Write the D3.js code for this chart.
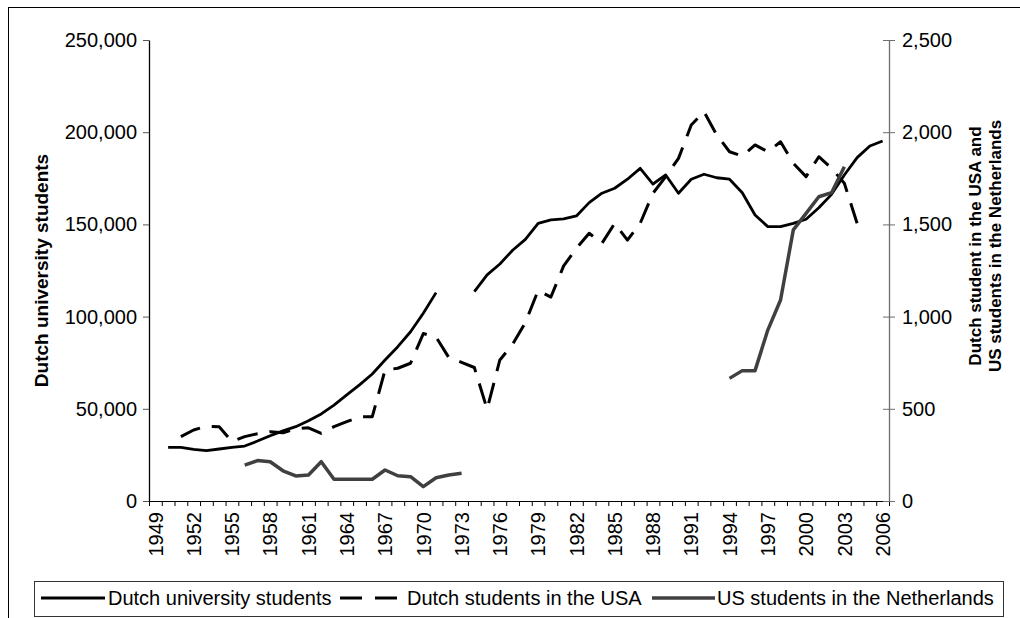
<!DOCTYPE html>
<html>
<head>
<meta charset="utf-8">
<script src="https://cdn.jsdelivr.net/npm/d3@7"></script>
<style>
  body { margin: 0; background: #fff; }
  svg { display: block; }
  text { font-family: Arial, "Liberation Sans", sans-serif; }
</style>
</head>
<body>
<div id="chart"></div>
<script>
// categories (years)
const years = [1949, 1950, 1951, 1952, 1953, 1954, 1955, 1956, 1957, 1958,
  1959, 1960, 1961, 1962, 1963, 1964, 1965, 1966, 1967, 1968,
  1969, 1970, 1971, 1972, 1973, 1974, 1975, 1976, 1977, 1978,
  1979, 1980, 1981, 1982, 1983, 1984, 1985, 1986, 1987, 1988,
  1989, 1990, 1991, 1992, 1993, 1994, 1995, 1996, 1997, 1998,
  1999, 2000, 2001, 2002, 2003, 2004, 2005, 2006];

// Dutch university students (left axis)
const dutchStudents = [null, 29100, 29100, 28000, 27300, 28200, 29100, 29800, 32500, 35400,
  38000, 40300, 43500, 47200, 52000, 57500, 63000, 68900, 76500, 83700,
  91800, 101800, 113000, null, null, 113500, 122600, 128500, 136000, 141900,
  150600, 152400, 153000, 154600, 161800, 166900, 169600, 174500, 180400, 171900,
  176800, 166900, 174500, 177200, 175300, 174500, 167200, 155100, 148800, 148800,
  150600, 152800, 159000, 166300, 176800, 186200, 192500, 195200];

// Dutch students in the USA (right axis)
const dutchInUSA = [null, null, 349, 385, 405, 403, 322, 349, 365, 376,
  370, 392, 397, 367, 403, 430, 457, 457, 710, 720,
  747, 908, 889, 778, 752, 724, 498, 765, 850, 968,
  1142, 1106, 1275, 1370, 1452, 1397, 1506, 1415, 1506, 1669,
  1759, 1858, 2039, 2111, 1985, 1894, 1871, 1931, 1894, 1948,
  1831, 1759, 1867, 1804, 1723, 1506, null, null];

// US students in the Netherlands (right axis)
const usInNL = [null, null, null, null, null, null, null, 195, 219, 213,
  164, 136, 141, 213, 118, 118, 118, 118, 168, 137,
  132, 78, 126, 141, 150, null, null, null, null, null,
  null, null, null, null, null, null, null, null, null, null,
  null, null, null, null, null, 665, 707, 707, 927, 1090,
  1470, 1560, 1650, 1672, 1813, null, null, null];

const xLabelYears = [1949, 1952, 1955, 1958, 1961, 1964, 1967, 1970, 1973, 1976,
  1979, 1982, 1985, 1988, 1991, 1994, 1997, 2000, 2003, 2006];
const leftTicks = [0, 50000, 100000, 150000, 200000, 250000];
const rightTicks = [0, 500, 1000, 1500, 2000, 2500];

const W = 1020, H = 618;
const plot = {left: 149, right: 889, top: 40, bottom: 501};

const svg = d3.select("#chart").append("svg")
    .attr("width", W)
    .attr("height", H);

// outer frame
svg.append("rect")
    .attr("x", 8.5).attr("y", 7.5)
    .attr("width", 1100).attr("height", 700)
    .attr("fill", "#fff")
    .attr("stroke", "#000")
    .attr("stroke-width", 1);

// scales
const x = d3.scaleBand().domain(years).range([plot.left, plot.right]).padding(0);
const xEdges = d3.scaleLinear().domain([1949, 2007]).range([plot.left, plot.right]);
const yL = d3.scaleLinear().domain([0, 250000]).range([plot.bottom, plot.top]);
const yR = d3.scaleLinear().domain([0, 2500]).range([plot.bottom, plot.top]);
const cx = yr => x(yr) + x.bandwidth() / 2;

// x axis: tick marks on category boundaries
const xTicks = svg.append("g")
    .attr("transform", `translate(0,${plot.bottom})`)
    .call(d3.axisBottom(xEdges).tickValues(d3.range(1949, 2008)).tickSize(5).tickSizeOuter(0).tickFormat(""));
xTicks.select(".domain").attr("stroke", "#000");
xTicks.selectAll(".tick line").attr("stroke", "#000");

// x labels, centred in categories
const xLab = svg.append("g")
    .attr("transform", `translate(0,${plot.bottom})`)
    .call(d3.axisBottom(x).tickValues(xLabelYears).tickSize(0));
xLab.select(".domain").remove();
xLab.selectAll("text")
    .attr("transform", "rotate(-90)")
    .attr("x", -11)
    .attr("y", 0)
    .attr("dy", "0.36em")
    .attr("text-anchor", "end")
    .attr("fill", "#000")
    .style("font-size", "20px");

// left axis
const axL = svg.append("g")
    .attr("transform", `translate(${plot.left},0)`)
    .call(d3.axisLeft(yL).tickValues(leftTicks).tickFormat(d3.format(",")).tickSize(6).tickSizeOuter(0).tickPadding(6));
axL.select(".domain").attr("stroke", "#000").attr("stroke-width", 1.3);
axL.selectAll(".tick line").attr("stroke", "#555");
axL.selectAll("text").attr("fill", "#000").style("font-size", "20px");

// right axis, ticks crossing the line
const axR = svg.append("g")
    .attr("transform", `translate(${plot.right},0)`)
    .call(d3.axisRight(yR).tickValues(rightTicks).tickFormat(d3.format(",")).tickSize(6).tickSizeOuter(0).tickPadding(7));
axR.select(".domain").attr("stroke", "#6e6e6e").attr("stroke-width", 1.3);
axR.selectAll(".tick line").attr("x1", -6).attr("x2", 6).attr("stroke", "#6e6e6e");
axR.selectAll("text").attr("fill", "#000").style("font-size", "20px");

// axis titles
svg.append("text")
    .attr("transform", `translate(48,${(plot.top + plot.bottom) / 2}) rotate(-90)`)
    .attr("text-anchor", "middle")
    .style("font-size", "19px")
    .style("font-weight", "bold")
    .text("Dutch university students");

const rightTitle = ["Dutch student in the USA and", "US students in the Netherlands"];
svg.selectAll(".rtitle")
    .data(rightTitle)
    .enter().append("text")
    .attr("class", "rtitle")
    .attr("transform", (d, i) => `translate(${981 + i * 20},246) rotate(-90)`)
    .attr("text-anchor", "middle")
    .style("font-size", "17px")
    .style("font-weight", "bold")
    .text(d => d);

// lines
const series = [
  {name: "Dutch university students", values: dutchStudents, y: yL, color: "#000", width: 2.8, dash: null},
  {name: "Dutch students in the USA", values: dutchInUSA, y: yR, color: "#000", width: 3, dash: "21,12"},
  {name: "US students in the Netherlands", values: usInNL, y: yR, color: "#404040", width: 3.5, dash: null}
];

series.forEach(s => {
  const pts = years.map((yr, i) => ({yr: yr, v: s.values[i]}));
  const line = d3.line()
      .defined(d => d.v != null)
      .x(d => cx(d.yr))
      .y(d => s.y(d.v));
  svg.append("path")
      .datum(pts)
      .attr("fill", "none")
      .attr("stroke", s.color)
      .attr("stroke-width", s.width)
      .attr("stroke-linejoin", "round")
      .attr("stroke-dasharray", s.dash)
      .attr("d", line);
});

// legend
const legend = svg.append("g");
legend.append("rect")
    .attr("x", 34.5).attr("y", 581.5)
    .attr("width", 969).attr("height", 35)
    .attr("fill", "#fff")
    .attr("stroke", "#333")
    .attr("stroke-width", 1);

const legendPos = [
  {x1: 41, x2: 105, tx: 108},
  {x1: 340, x2: 397, tx: 407},
  {x1: 652, x2: 715, tx: 717}
];
series.forEach((s, i) => {
  const p = legendPos[i];
  legend.append("line")
      .attr("x1", p.x1).attr("x2", p.x2)
      .attr("y1", 598).attr("y2", 598)
      .attr("stroke", s.color)
      .attr("stroke-width", s.width)
      .attr("stroke-dasharray", s.dash ? "22,13" : null);
  legend.append("text")
      .attr("x", p.tx)
      .attr("y", 604.5)
      .style("font-size", "20px")
      .text(s.name);
});
</script>
</body>
</html>
